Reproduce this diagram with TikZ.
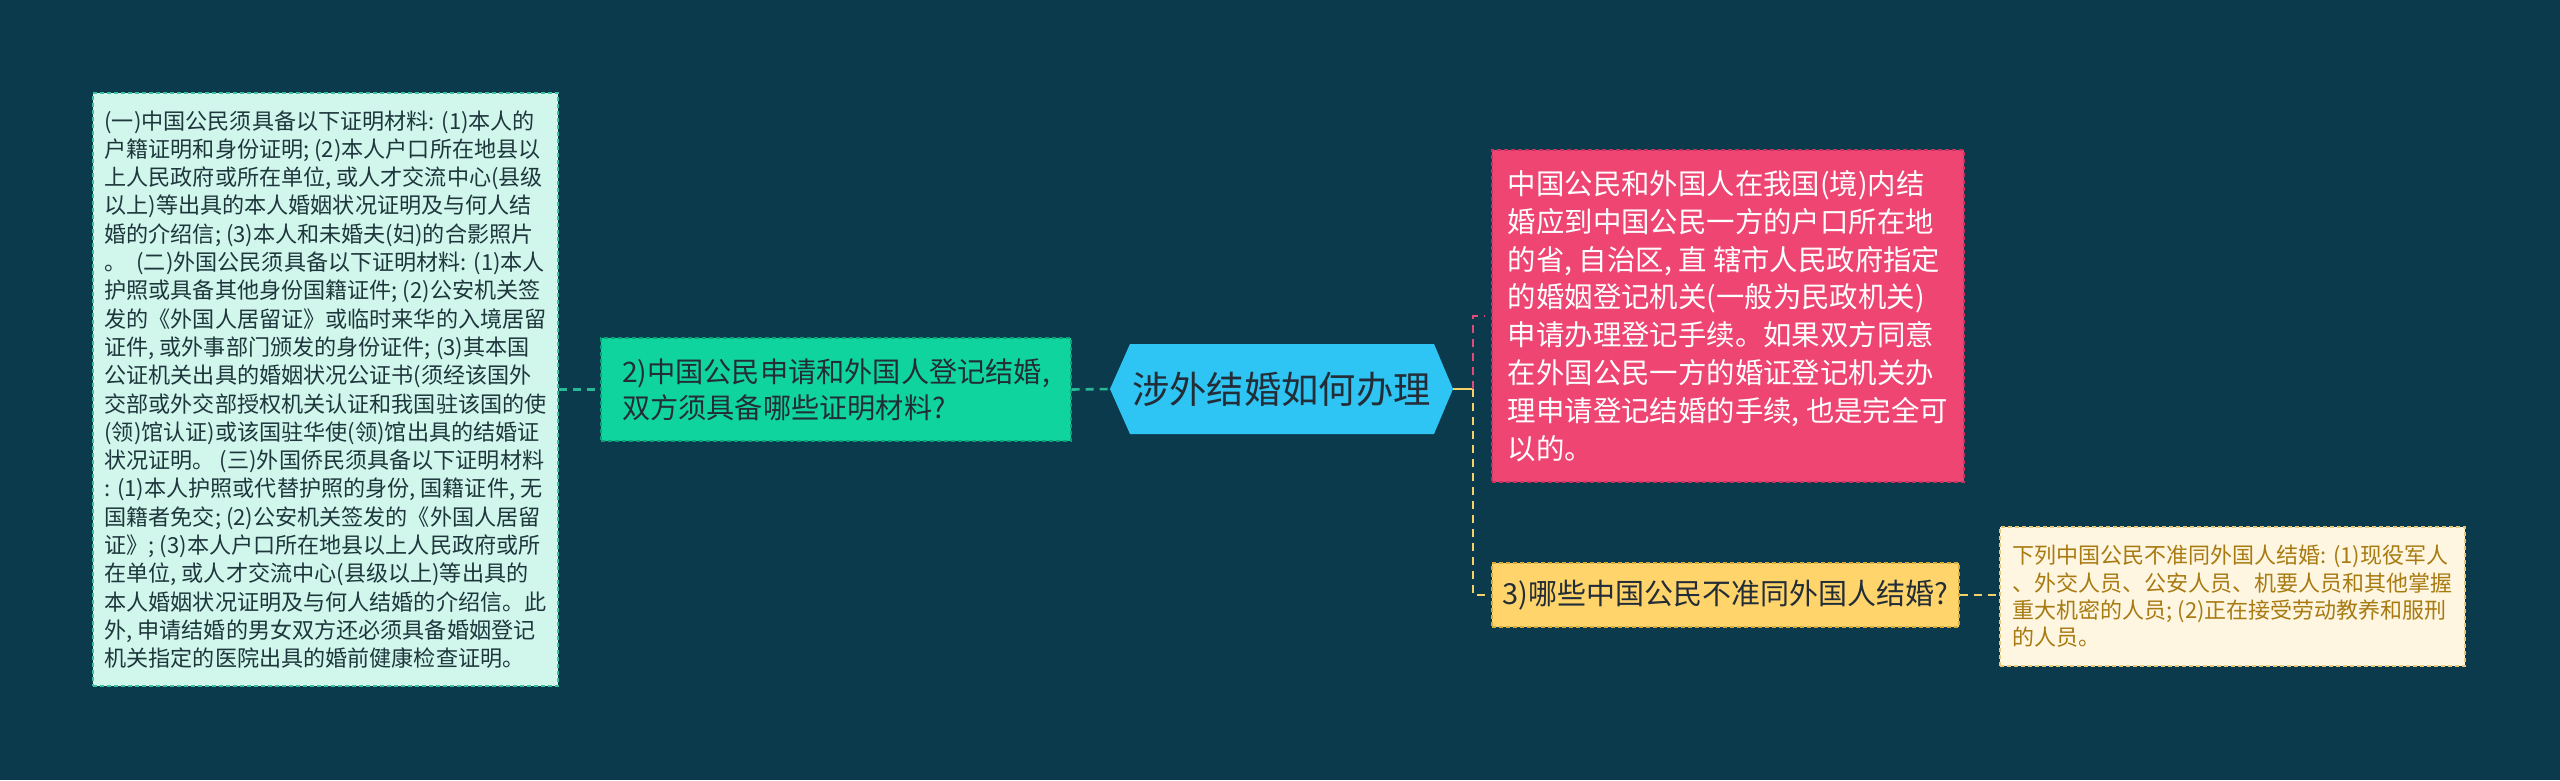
\documentclass[tikz,border=0pt]{standalone}
\usepackage{fontspec}
\setmainfont{Noto Sans CJK SC}
\definecolor{bgc}{RGB}{11,58,76}
\definecolor{leftfill}{RGB}{209,246,236}
\definecolor{leftdraw}{RGB}{60,190,160}
\definecolor{lefttext}{RGB}{30,55,60}
\definecolor{greenfill}{RGB}{16,212,158}
\definecolor{greendraw}{RGB}{10,160,120}
\definecolor{hexfill}{RGB}{46,196,243}
\definecolor{darktext}{RGB}{35,45,55}
\definecolor{pinkfill}{RGB}{238,69,114}
\definecolor{pinkdraw}{RGB}{200,50,95}
\definecolor{yelfill}{RGB}{255,212,107}
\definecolor{yeldraw}{RGB}{215,170,60}
\definecolor{lightfill}{RGB}{254,246,224}
\definecolor{lightdraw}{RGB}{230,200,120}
\definecolor{browntext}{RGB}{168,122,18}
\definecolor{tealline}{RGB}{40,185,150}
\definecolor{pinkline}{RGB}{225,75,120}
\definecolor{yelline}{RGB}{245,210,105}
\begin{document}
\begin{tikzpicture}[x=1pt,y=-1pt,
  box/.style={rectangle, dash pattern=on 4pt off 3pt, line width=1.2pt, align=left, inner sep=0pt},
  conn/.style={line width=2.6pt, dash pattern=on 8pt off 6pt}]
\fill[bgc] (0,0) rectangle (2560,780);
\useasboundingbox (0,0) rectangle (2560,780);
% left detail box
\node[box, fill=leftfill, draw=leftdraw, text=lefttext, minimum width=465pt, minimum height=593pt,
  font=\fontsize{22.1}{28.3}\selectfont] (L) at (325.5,389.5) {%
(一)中国公民须具备以下证明材料: (1)本人的\\
户籍证明和身份证明; (2)本人户口所在地县以\\
上人民政府或所在单位, 或人才交流中心(县级\\
以上)等出具的本人婚姻状况证明及与何人结\\
婚的介绍信; (3)本人和未婚夫(妇)的合影照片\\
。\ \ (二)外国公民须具备以下证明材料: (1)本人\\
护照或具备其他身份国籍证件; (2)公安机关签\\
发的《外国人居留证》或临时来华的入境居留\\
证件, 或外事部门颁发的身份证件; (3)其本国\\
公证机关出具的婚姻状况公证书(须经该国外\\
交部或外交部授权机关认证和我国驻该国的使\\
(领)馆认证)或该国驻华使(领)馆出具的结婚证\\
状况证明。\ (三)外国侨民须具备以下证明材料\\
: (1)本人护照或代替护照的身份, 国籍证件, 无\\
国籍者免交; (2)公安机关签发的《外国人居留\\
证》; (3)本人户口所在地县以上人民政府或所\\
在单位, 或人才交流中心(县级以上)等出具的\\
本人婚姻状况证明及与何人结婚的介绍信。此\\
外, 申请结婚的男女双方还必须具备婚姻登记\\
机关指定的医院出具的婚前健康检查证明。};
% green question
\node[box, fill=greenfill, draw=greendraw, text=darktext, minimum width=470pt, minimum height=103pt,
  font=\fontsize{28.2}{36}\selectfont] (G) at (836,389.5) {%
2)中国公民申请和外国人登记结婚,\\
双方须具备哪些证明材料?};
% central hexagon
\fill[hexfill] (1110,389) -- (1130,344) -- (1434,344) -- (1453,389) -- (1434,434) -- (1130,434) -- cycle;
\node[inner sep=0pt, minimum width=343pt, minimum height=90pt, text=darktext,
  font=\fontsize{37.3}{44}\selectfont] (hex) at (1281.5,389) {涉外结婚如何办理};
% pink answer
\node[box, fill=pinkfill, draw=pinkdraw, text=white, minimum width=472pt, minimum height=332pt,
  font=\fontsize{28.4}{37.8}\selectfont] (P) at (1728,316) {%
中国公民和外国人在我国(境)内结\\
婚应到中国公民一方的户口所在地\\
的省, 自治区, 直 辖市人民政府指定\\
的婚姻登记机关(一般为民政机关)\\
申请办理登记手续。如果双方同意\\
在外国公民一方的婚证登记机关办\\
理申请登记结婚的手续, 也是完全可\\
以的。};
% yellow question
\node[box, fill=yelfill, draw=yeldraw, text=darktext, minimum width=467pt, minimum height=64pt,
  font=\fontsize{29}{36}\selectfont] (Y) at (1725.5,595) {3)哪些中国公民不准同外国人结婚?};
% light answer
\node[box, fill=lightfill, draw=lightdraw, text=browntext, minimum width=465pt, minimum height=139pt,
  font=\fontsize{22}{27.3}\selectfont] (Lt) at (2232.5,596.5) {%
下列中国公民不准同外国人结婚: (1)现役军人\\
、外交人员、公安人员、机要人员和其他掌握\\
重大机密的人员; (2)正在接受劳动教养和服刑\\
的人员。};
% connectors
\coordinate (j) at (1473,389);
\draw[conn, tealline] (L.east) -- (G.west);
\draw[conn, tealline] (G.east) -- (hex.west);
\draw[line width=2.6pt, yelline] (hex.east) -- (j);
\draw[conn, pinkline] (j) |- ([xshift=-7pt]P.west);
\draw[conn, yelline] (j) |- ([xshift=-4pt]Y.west);
\draw[conn, yelline] (Y.east) -- (Y.east -| Lt.west);
\end{tikzpicture}
\end{document}
